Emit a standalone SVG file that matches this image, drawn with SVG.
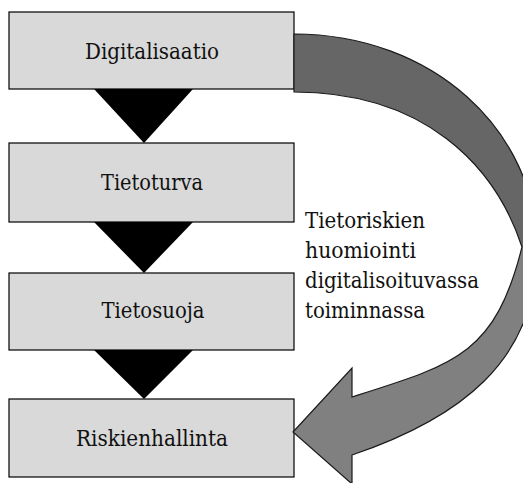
<svg xmlns="http://www.w3.org/2000/svg" width="523" height="483" viewBox="0 0 523 483">
  <style>
    .box { fill: #d9d9d9; stroke: #000; stroke-width: 1.2; }
    .lbl { font-family: 'DejaVu Serif Condensed', 'DejaVu Serif', 'Noto Serif', serif; font-stretch: condensed; font-size: 23px; fill: #111; }
    .mid { text-anchor: middle; }
    .step { fill: #000; }
    .curve { fill: url(#shade); stroke: #1a1a1a; stroke-width: 1.2; stroke-linejoin: miter; }
  </style>
  <defs>
    <linearGradient id="shade" gradientUnits="userSpaceOnUse" x1="0" y1="0" x2="0" y2="483">
      <stop offset="0" stop-color="#666666"/>
      <stop offset="0.511" stop-color="#666666"/>
      <stop offset="0.511" stop-color="#808080"/>
      <stop offset="1" stop-color="#808080"/>
    </linearGradient>
  </defs>
  <rect width="523" height="483" fill="#fff"/>

  <g id="node-digitalisaatio">
    <rect class="box" x="9" y="12" width="285" height="77"/>
    <text class="lbl mid" x="152" y="59" textLength="134" lengthAdjust="spacingAndGlyphs">Digitalisaatio</text>
  </g>
  <g id="node-tietoturva">
    <rect class="box" x="9" y="143" width="285" height="79"/>
    <text class="lbl mid" x="152" y="190" textLength="102" lengthAdjust="spacingAndGlyphs">Tietoturva</text>
  </g>
  <g id="node-tietosuoja">
    <rect class="box" x="9" y="273" width="285" height="77"/>
    <text class="lbl mid" x="153" y="318" textLength="103" lengthAdjust="spacingAndGlyphs">Tietosuoja</text>
  </g>
  <g id="node-riskienhallinta">
    <rect class="box" x="9" y="399" width="285" height="78"/>
    <text class="lbl mid" x="152" y="446" textLength="152" lengthAdjust="spacingAndGlyphs">Riskienhallinta</text>
  </g>

  <g id="connectors">
    <polygon class="step" points="94,89 193,89 144,143"/>
    <polygon class="step" points="94,222 193,222 144,273"/>
    <polygon class="step" points="94,350 193,350 144,399"/>
    <path class="curve" d="M294,34 C432,34 537,130 537,250 C537,362 458,419 352,455 L352,484 L293,432 L352,368 L352,397 C456.5,364 495,354 522,247 C495,165 424,92 294,92 Z"/>
  </g>

  <g id="label-feedback">
    <text class="lbl" x="305" y="228" textLength="120" lengthAdjust="spacingAndGlyphs">Tietoriskien</text>
    <text class="lbl" x="305" y="258" textLength="111" lengthAdjust="spacingAndGlyphs">huomiointi</text>
    <text class="lbl" x="305" y="288" textLength="174" lengthAdjust="spacingAndGlyphs">digitalisoituvassa</text>
    <text class="lbl" x="305" y="318" textLength="120" lengthAdjust="spacingAndGlyphs">toiminnassa</text>
  </g>
</svg>
